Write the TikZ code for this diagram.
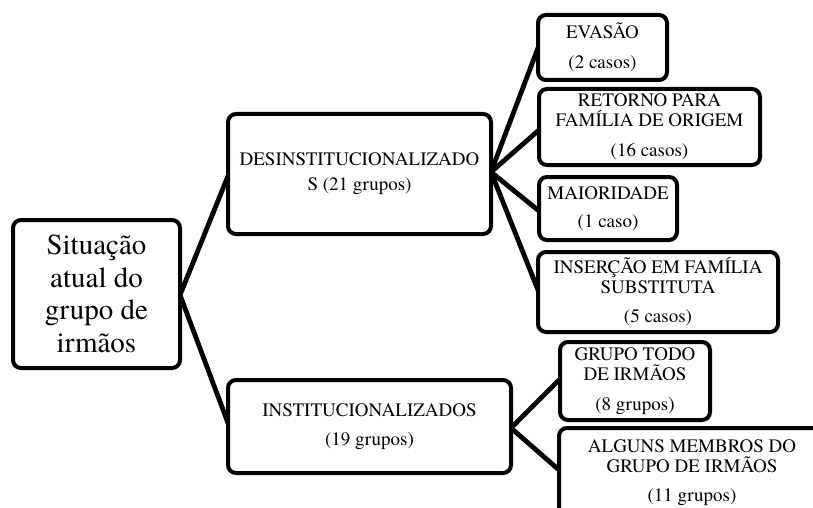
\documentclass[tikz,border=0pt]{standalone}
\usepackage{fontspec}
\setmainfont{texgyretermes}[Extension=.otf,UprightFont=*-regular,BoldFont=*-bold,ItalicFont=*-italic,BoldItalicFont=*-bolditalic]
\begin{document}
\begin{tikzpicture}[x=1pt,y=-1pt,
  box/.style={draw=black,line width=4pt,rounded corners=8pt,inner sep=0pt,align=center,fill=white},
  small/.style={font=\fontsize{19}{20}\selectfont},
  link/.style={line width=4.8pt,line cap=round}]
\useasboundingbox (0,0) rectangle (813,508);
\clip (0,0) rectangle (813,508);
% connectors first
\coordinate (rootE) at (180,295);
\coordinate (desW) at (228,176);
\coordinate (desE) at (491,172);
\coordinate (instW) at (228,423);
\coordinate (instE) at (511,428);
\coordinate (evaW) at (538,48);
\coordinate (retW) at (539,130);
\coordinate (maiW) at (539,211);
\coordinate (insW) at (538,290);
\coordinate (gruW) at (559,380);
\coordinate (algW) at (559,470);
\draw[link] (rootE) -- (desW);
\draw[link] (rootE) -- (instW);
\draw[link] (desE) -- (evaW);
\draw[link] (desE) -- (retW);
\draw[link] (desE) -- (maiW);
\draw[link] (desE) -- (insW);
\draw[link] (instE) -- (gruW);
\draw[link] (instE) -- (algW);
% boxes
\node[box,minimum width=167pt,minimum height=148pt,font=\fontsize{29}{32.5}\selectfont] (root) at (96.5,294) {Situação\\atual do\\grupo de\\irmãos};
\node[box,minimum width=263pt,minimum height=120pt,font=\fontsize{19}{25}\selectfont] (des) at (359.5,174) {DESINSTITUCIONALIZADO\\S (21 grupos)};
\node[box,minimum width=283pt,minimum height=93pt,font=\fontsize{19}{29}\selectfont] (inst) at (369.5,426.5) {INSTITUCIONALIZADOS\\(19 grupos)};
\node[box,small,minimum width=129pt,minimum height=65pt] (eva) at (602.5,47.5) {EVASÃO\\[10pt](2 casos)};
\node[box,small,minimum width=221pt,minimum height=76pt] (ret) at (649.5,127) {RETORNO PARA\\FAMÍLIA DE ORIGEM\\[10pt](16 casos)};
\node[box,small,minimum width=138pt,minimum height=63pt] (mai) at (608,208.5) {MAIORIDADE\\[8pt](1 caso)};
\node[box,small,minimum width=240pt,minimum height=80pt] (ins) at (658,292) {INSERÇÃO EM FAMÍLIA\\SUBSTITUTA\\[9pt](5 casos)};
\node[box,small,minimum width=150pt,minimum height=78pt] (gru) at (635,381) {GRUPO TODO\\DE IRMÃOS\\[10pt](8 grupos)};
\draw[line width=4pt,rounded corners=8pt,fill=white] (559,530) -- (559,428) -- (840,428) -- (840,530);
\node[small,align=center,inner sep=0pt,anchor=north] (alg) at (692,439) {ALGUNS MEMBROS DO\\GRUPO DE IRMÃOS\\[9pt](11 grupos)};
\end{tikzpicture}
\end{document}
